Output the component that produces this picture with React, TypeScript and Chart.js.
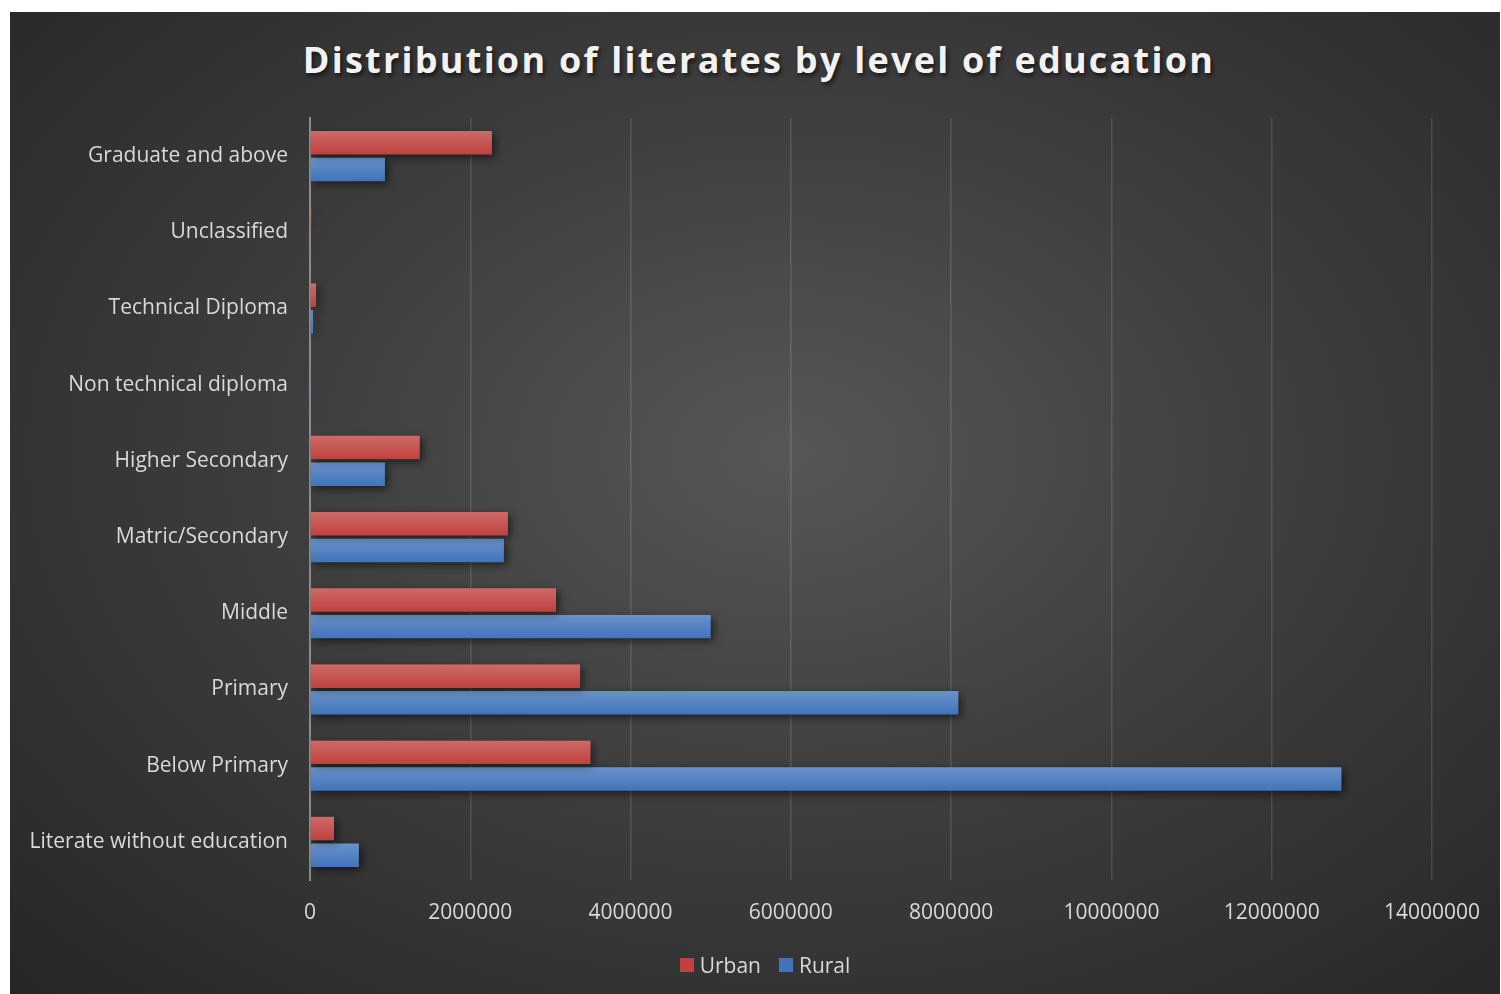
import React, { useEffect, useRef } from "react";
import { Chart, registerables } from "chart.js";

Chart.register(...registerables);

const categories = [
  "Graduate and above",
  "Unclassified",
  "Technical Diploma",
  "Non technical diploma",
  "Higher Secondary",
  "Matric/Secondary",
  "Middle",
  "Primary",
  "Below Primary",
  "Literate without education",
];
const urbanValues = [2270000, 15000, 75000, 10000, 1370000, 2470000, 3070000, 3370000, 3500000, 300000];
const ruralValues = [935000, 10000, 38000, 8000, 935000, 2420000, 5000000, 8090000, 12870000, 610000];
const seriesNames = ["Urban", "Rural"];
const seriesColors = ["#c0413e", "#4174bb"];
const titleText = "Distribution of literates by level of education";

const FONT = "'Open Sans', sans-serif";
const TEXT = "#d9d9d9";

const barShadow = {
  id: "barShadow",
  beforeDatasetsDraw(chart: any) {
    const ctx = chart.ctx;
    ctx.save();
    ctx.shadowColor = "rgba(0,0,0,0.55)";
    ctx.shadowBlur = 8;
    ctx.shadowOffsetX = 3;
    ctx.shadowOffsetY = 3;
  },
  afterDatasetsDraw(chart: any) {
    const ctx = chart.ctx;
    ctx.restore();
    ctx.save();
    chart.data.datasets.forEach((_: any, di: number) => {
      const meta = chart.getDatasetMeta(di);
      meta.data.forEach((bar: any) => {
        const { x, y, base, height } = bar.getProps(["x", "y", "base", "height"], true);
        const top = y - height / 2;
        const g = ctx.createLinearGradient(0, top, 0, top + height);
        g.addColorStop(0, "rgba(255,255,255,0.22)");
        g.addColorStop(1, "rgba(255,255,255,0)");
        ctx.fillStyle = g;
        ctx.fillRect(Math.min(base, x), top, Math.abs(x - base), height);
      });
    });
    ctx.restore();
  },
};

export default function App() {
  const canvasRef = useRef<HTMLCanvasElement | null>(null);

  useEffect(() => {
    document.body.style.margin = "0";
    const chart = new Chart(canvasRef.current as HTMLCanvasElement, {
      type: "bar",
      data: {
        labels: categories,
        datasets: [
          {
            label: seriesNames[0],
            data: urbanValues,
            backgroundColor: seriesColors[0],
            categoryPercentage: 0.7,
            barPercentage: 0.88,
          },
          {
            label: seriesNames[1],
            data: ruralValues,
            backgroundColor: seriesColors[1],
            categoryPercentage: 0.7,
            barPercentage: 0.88,
          },
        ],
      },
      options: {
        indexAxis: "y",
        animation: false,
        responsive: false,
        maintainAspectRatio: false,
        layout: { padding: { top: 106, left: 0, right: 24, bottom: 54 } },
        scales: {
          x: {
            min: 0,
            max: 14000000,
            afterFit: (s: any) => {
              s.height = 60;
            },
            ticks: {
              stepSize: 2000000,
              color: TEXT,
              padding: 20,
              font: { family: FONT, size: 21 },
              callback: (v: any) => String(v),
            },
            grid: {
              color: (c: any) => (c.index === 0 ? "rgba(0,0,0,0)" : "rgba(255,255,255,0.13)"),
              lineWidth: 1.5,
              drawTicks: false,
            },
            border: { display: false },
          },
          y: {
            afterFit: (s: any) => {
              s.width = 300;
            },
            ticks: {
              color: TEXT,
              padding: 22,
              font: { family: FONT, size: 21 },
            },
            grid: { display: false, drawTicks: false },
            border: { display: true, color: "#8c8c8c", width: 2 },
          },
        },
        plugins: {
          title: { display: false },
          tooltip: { enabled: false },
          legend: { display: false },
        },
      },
      plugins: [barShadow],
    } as any);
    return () => chart.destroy();
  }, []);

  return (
    <div
      style={{
        position: "absolute",
        left: 10,
        top: 12,
        width: 1490,
        height: 982,
        background: "radial-gradient(ellipse farthest-corner at 52% 45%, #575757 0%, #3e3e3e 45%, #262626 100%)",
      }}
    >
      <div
        style={{
          position: "absolute",
          left: 0,
          top: 23,
          width: 1498,
          textAlign: "center",
          color: "#f2f2f2",
          fontFamily: FONT,
          fontWeight: 700,
          fontSize: 36,
          letterSpacing: 2.25,
          textShadow: "2px 3px 4px rgba(0,0,0,0.6)",
        }}
      >
        {titleText}
      </div>
      <canvas ref={canvasRef} width={1490} height={982} style={{ position: "absolute", left: 0, top: 0 }} />
      <div
        style={{
          position: "absolute",
          left: 0,
          top: 938,
          width: 1510,
          display: "flex",
          justifyContent: "center",
          alignItems: "center",
          fontFamily: FONT,
          fontSize: 21,
          color: TEXT,
          lineHeight: "30px",
        }}
      >
        {seriesNames.map((name, i) => (
          <div key={name} style={{ display: "flex", alignItems: "center", marginRight: i === 0 ? 18 : 0 }}>
            <span
              style={{
                display: "inline-block",
                width: 14,
                height: 14,
                background: seriesColors[i],
                marginRight: 6,
              }}
            />
            <span>{name}</span>
          </div>
        ))}
      </div>
    </div>
  );
}
